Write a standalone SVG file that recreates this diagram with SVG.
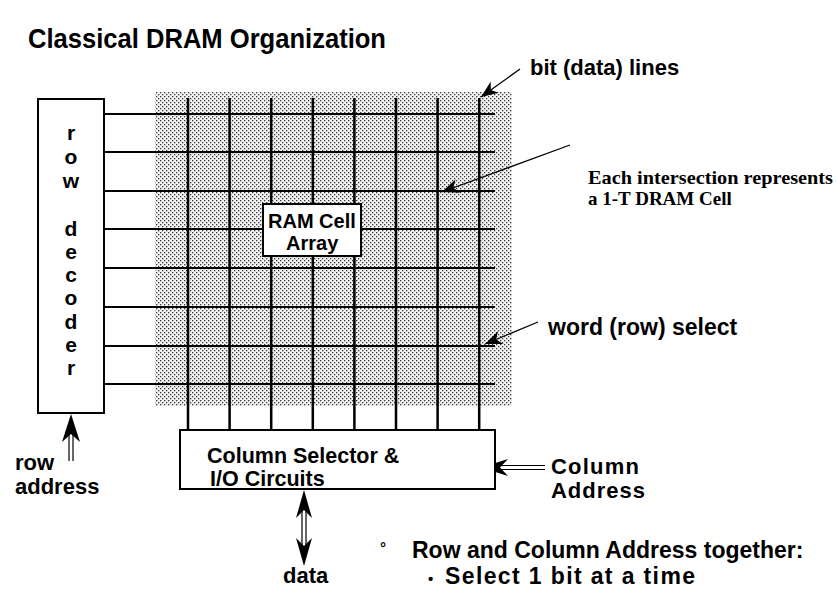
<svg xmlns="http://www.w3.org/2000/svg" width="837" height="598" viewBox="0 0 837 598">
  <defs>
    <pattern id="stipple" width="4" height="4" patternUnits="userSpaceOnUse">
      <rect width="4" height="4" fill="#f2f2f2"/>
      <rect x="0" y="0" width="1.3" height="1.3" fill="#3a3a3a"/>
      <rect x="2" y="2" width="1.3" height="1.3" fill="#3a3a3a"/>
    </pattern>
    <marker id="barb" markerWidth="20" markerHeight="16" refX="18" refY="8" orient="auto" markerUnits="userSpaceOnUse">
      <path d="M18 8 L1 1 L6 8 L1 15 Z" fill="#000"/>
    </marker>
  </defs>
  <style>
    .lbl { font-family: "Liberation Sans", Arial, sans-serif; font-weight: bold; fill: #000; font-size: 22px; }
    .note { font-family: "Liberation Serif", "Times New Roman", serif; font-weight: bold; fill: #000; font-size: 19px; }
    .box { fill: #fff; stroke: #000; stroke-width: 2; }
    .row { stroke: #000; stroke-width: 2; }
    .col { stroke: #000; stroke-width: 2.5; }
    .ptr { stroke: #000; stroke-width: 1.3; fill: none; }
    .dbl { stroke: #000; stroke-width: 1.2; fill: none; }
    .head { fill: #000; }
  </style>
  <rect width="837" height="598" fill="#fff"/>

  <text class="lbl" x="28" y="48" style="font-size:27px" textLength="358" lengthAdjust="spacingAndGlyphs">Classical DRAM Organization</text>

  <!-- stippled cell array background -->
  <g id="cell-array">
    <rect x="155" y="92" width="357" height="314" fill="url(#stipple)"/>
  </g>

  <!-- word lines and bit lines -->
  <g id="connectors">
    <line class="row" x1="104" y1="114" x2="495" y2="114"/>
    <line class="row" x1="104" y1="152" x2="495" y2="152"/>
    <line class="row" x1="104" y1="191" x2="495" y2="191" stroke-width="4.5"/>
    <line class="row" x1="104" y1="229" x2="495" y2="229"/>
    <line class="row" x1="104" y1="268" x2="495" y2="268"/>
    <line class="row" x1="104" y1="307" x2="495" y2="307"/>
    <line class="row" x1="104" y1="346" x2="495" y2="346"/>
    <line class="row" x1="104" y1="384" x2="495" y2="384"/>

    <line class="col" x1="188" y1="98" x2="188" y2="430"/>
    <line class="col" x1="229.6" y1="98" x2="229.6" y2="430" stroke-width="3"/>
    <line class="col" x1="271.2" y1="98" x2="271.2" y2="430"/>
    <line class="col" x1="312.8" y1="98" x2="312.8" y2="430"/>
    <line class="col" x1="354.4" y1="98" x2="354.4" y2="430"/>
    <line class="col" x1="396" y1="98" x2="396" y2="430"/>
    <line class="col" x1="437.6" y1="98" x2="437.6" y2="430" stroke-width="5"/>
    <line class="col" x1="479.2" y1="98" x2="479.2" y2="430"/>

    <!-- label pointers -->
    <line class="ptr" x1="520" y1="69" x2="481" y2="97" marker-end="url(#barb)"/>
    <line class="ptr" x1="570" y1="145" x2="442" y2="192" marker-end="url(#barb)"/>
    <line class="ptr" x1="538" y1="322" x2="485" y2="344" marker-end="url(#barb)"/>

    <!-- row address input -->
    <g id="row-address-arrow">
      <line class="dbl" x1="69" y1="433" x2="69" y2="461"/>
      <line class="dbl" x1="73" y1="433" x2="73" y2="461"/>
      <path class="head" d="M71 414 L80 442 L71 434 L62 442 Z"/>
    </g>

    <!-- column address input -->
    <g id="column-address-arrow">
      <line class="dbl" x1="498" y1="465.5" x2="545" y2="465.5"/>
      <line class="dbl" x1="498" y1="469.5" x2="545" y2="469.5"/>
      <path class="head" d="M481 467.5 L508 459 L500 467.5 L508 476 Z"/>
    </g>

    <!-- bidirectional data port -->
    <g id="data-arrow">
      <line class="dbl" x1="302" y1="508" x2="302" y2="548"/>
      <line class="dbl" x1="306" y1="508" x2="306" y2="548"/>
      <path class="head" d="M304 490 L312 518 L304 510 L296 518 Z"/>
      <path class="head" d="M304 566 L312 538 L304 546 L296 538 Z"/>
    </g>
  </g>

  <g id="row-decoder">
    <rect class="box" x="38" y="99" width="66" height="314"/>
    <g class="lbl" style="font-size:21px" text-anchor="middle">
      <text x="71" y="140">r</text>
      <text x="71" y="164">o</text>
      <text x="71" y="188">w</text>
      <text x="71" y="236">d</text>
      <text x="71" y="259">e</text>
      <text x="71" y="282">c</text>
      <text x="71" y="305">o</text>
      <text x="71" y="329">d</text>
      <text x="71" y="352">e</text>
      <text x="71" y="375">r</text>
    </g>
  </g>

  <g id="ram-cell-array-label">
    <rect class="box" x="263" y="204" width="98" height="52"/>
    <text class="lbl" x="268" y="228" style="font-size:20px">RAM Cell</text>
    <text class="lbl" x="286" y="250" style="font-size:20px">Array</text>
  </g>

  <g id="column-selector">
    <rect class="box" x="180" y="430" width="315" height="59"/>
    <text class="lbl" x="207" y="463" style="font-size:21.5px">Column Selector &amp;</text>
    <text class="lbl" x="210" y="486" style="font-size:21.5px">I/O Circuits</text>
  </g>

  <g id="labels">
    <text class="lbl" x="530" y="75">bit (data) lines</text>
    <text class="note" x="588" y="184" textLength="245" lengthAdjust="spacingAndGlyphs">Each intersection represents</text>
    <text class="note" x="588" y="205">a 1-T DRAM Cell</text>
    <text class="lbl" x="548" y="335" style="font-size:23px">word (row) select</text>
    <text class="lbl" x="551" y="474" textLength="88" lengthAdjust="spacing">Column</text>
    <text class="lbl" x="551" y="498" textLength="94" lengthAdjust="spacing">Address</text>
    <text class="lbl" x="15" y="470">row</text>
    <text class="lbl" x="15" y="494">address</text>
    <text class="lbl" x="283" y="583">data</text>
    <text class="lbl" x="380" y="553" style="font-size:15px">°</text>
    <text class="lbl" x="412" y="558" style="font-size:23px">Row and Column Address together:</text>
    <text class="lbl" x="428" y="584" style="font-size:15px">•</text>
    <text class="lbl" x="445" y="584" style="font-size:23px" textLength="250" lengthAdjust="spacing">Select 1 bit at a time</text>
  </g>
</svg>
